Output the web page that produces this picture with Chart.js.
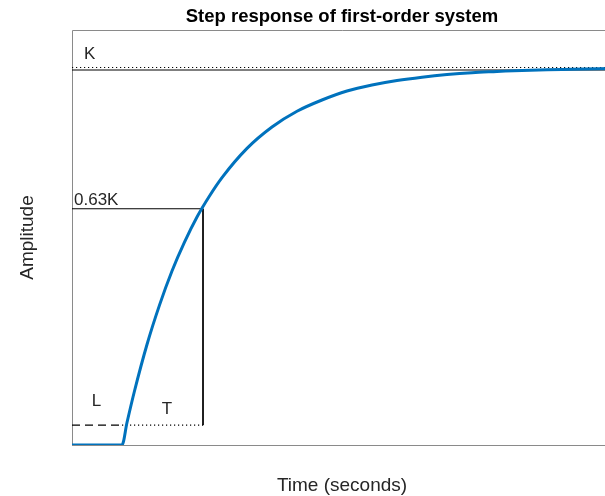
<!DOCTYPE html>
<html>
<head>
<meta charset="utf-8">
<script src="https://cdn.jsdelivr.net/npm/chart.js@4/dist/chart.umd.min.js"></script>
<style>
html,body{margin:0;padding:0;background:#fff;overflow:hidden;}
canvas{display:block;}
</style>
</head>
<body>
<canvas id="c" width="612" height="496"></canvas>
<script>
// ---- data ----
const timeVals = [0, 0.5, 1.0, 1.1, 1.25, 1.5, 1.75, 2.0, 2.25, 2.5, 2.75, 3.0, 3.5, 4.0, 4.5, 5.0, 5.5, 6.0, 6.5, 7.0, 7.5, 8.0, 8.5, 9.0, 9.5, 10.0, 10.8];
const ampVals  = [0, 0, 0, 0.06, 0.144, 0.268, 0.373, 0.464, 0.541, 0.608, 0.664, 0.713, 0.791, 0.848, 0.890, 0.920, 0.944, 0.960, 0.972, 0.981, 0.988, 0.993, 0.996, 0.999, 1.001, 1.002, 1.004];
const K = 1.0;
const kDotLevel = 1.0067;      // dotted steady-state line
const levelFrac = 0.63;        // 0.63K
const delayL = 1.0;            // L
const tAt63 = 2.62;            // L + T
const markerLevel = 0.053;     // level of the L / T marker line
const xMax = 10.8;
const yMax = 1.1067;
const labels = {title: 'Step response of first-order system', x: 'Time (seconds)', y: 'Amplitude'};
const notes = [
  {text: 'K', x: 0.24, y: 1.029, align: 'left'},
  {text: '0.63K', x: 0.04, y: 0.64, align: 'left'},
  {text: 'L', x: 0.49, y: 0.104, align: 'center'},
  {text: 'T', x: 1.9, y: 0.083, align: 'center'}
];

const curve = timeVals.map((t, i) => ({x: t, y: ampVals[i]}));

const deco = {
  id: 'deco',
  beforeDatasetsDraw(chart) {
    const {ctx, chartArea: a} = chart;
    ctx.save();
    ctx.strokeStyle = '#8a8a8a';
    ctx.lineWidth = 1;
    ctx.beginPath();
    ctx.moveTo(a.left + 0.5, a.bottom + 0.5);
    ctx.lineTo(a.left + 0.5, a.top + 0.5);
    ctx.lineTo(a.right, a.top + 0.5);
    ctx.moveTo(a.left, a.bottom + 0.5);
    ctx.lineTo(a.right, a.bottom + 0.5);
    ctx.stroke();
    ctx.restore();
  },
  afterDraw(chart) {
    const {ctx, chartArea: a, scales: {x, y}} = chart;
    ctx.save();
    ctx.fillStyle = '#000';
    ctx.textAlign = 'center';
    ctx.textBaseline = 'middle';
    ctx.font = 'bold 18.5px "Liberation Sans", Arial, sans-serif';
    const cx = (a.left + a.right) / 2;
    ctx.fillText(labels.title, cx, 17);
    ctx.fillStyle = '#262626';
    ctx.font = '19px "Liberation Sans", Arial, sans-serif';
    ctx.fillText(labels.x, cx, 486);
    ctx.save();
    ctx.translate(28, (a.top + a.bottom) / 2);
    ctx.rotate(-Math.PI / 2);
    ctx.fillText(labels.y, 0, 0);
    ctx.restore();
    ctx.font = '17px "Liberation Sans", Arial, sans-serif';
    ctx.textBaseline = 'alphabetic';
    notes.forEach(n => {
      ctx.textAlign = n.align;
      ctx.fillText(n.text, x.getPixelForValue(n.x), y.getPixelForValue(n.y));
    });
    ctx.restore();
  }
};

new Chart(document.getElementById('c'), {
  type: 'line',
  data: {
    datasets: [
      {data: curve, borderColor: '#0072BD', borderWidth: 3, pointRadius: 0, cubicInterpolationMode: 'monotone', order: 0},
      {data: [{x: 0, y: K}, {x: xMax, y: K}], borderColor: '#000', borderWidth: 1, pointRadius: 0, order: 5},
      {data: [{x: 0, y: kDotLevel * K}, {x: xMax, y: kDotLevel * K}], borderColor: '#000', borderWidth: 1, borderDash: [1.2, 2.8], pointRadius: 0, order: 5},
      {data: [{x: 0, y: levelFrac * K}, {x: tAt63, y: levelFrac * K}, {x: tAt63, y: markerLevel}], borderColor: '#000', borderWidth: 1, pointRadius: 0, order: 5},
      {data: [{x: 0, y: markerLevel}, {x: delayL, y: markerLevel}], borderColor: '#000', borderWidth: 1.2, borderDash: [8, 5], pointRadius: 0, order: 5},
      {data: [{x: delayL, y: markerLevel}, {x: tAt63, y: markerLevel}], borderColor: '#000', borderWidth: 1.2, borderDash: [1.2, 2.8], pointRadius: 0, order: 5}
    ]
  },
  options: {
    responsive: false,
    animation: false,
    layout: {padding: {left: 72, top: 30, right: 0, bottom: 51}},
    plugins: {legend: {display: false}, tooltip: {enabled: false}, title: {display: false}},
    scales: {
      x: {type: 'linear', min: 0, max: xMax, display: false},
      y: {type: 'linear', min: 0, max: yMax, display: false}
    }
  },
  plugins: [deco]
});
</script>
</body>
</html>
